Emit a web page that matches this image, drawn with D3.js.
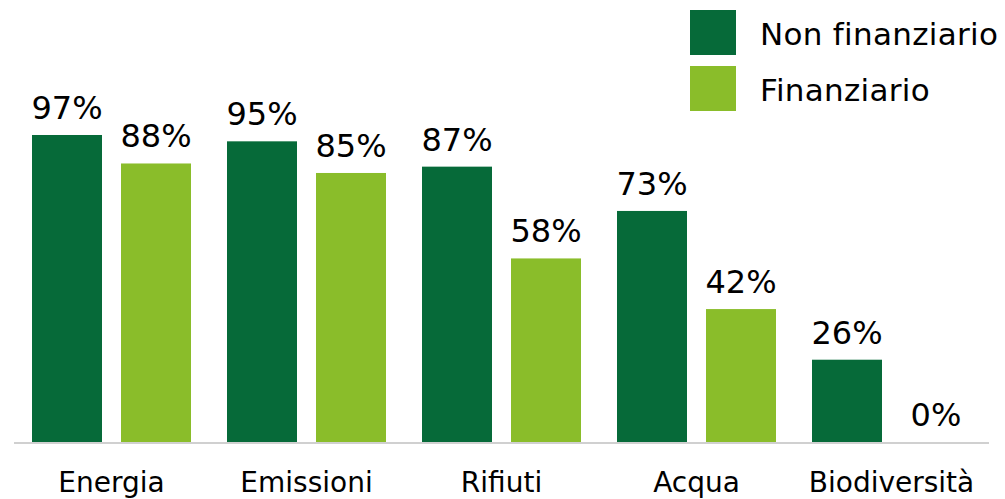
<!DOCTYPE html>
<meta charset="utf-8">
<style>
body { margin: 0; background: #fff; }
text { font-family: "DejaVu Sans", Verdana, sans-serif; fill: #000; }
</style>
<svg width="1005" height="499"></svg>
<script src="https://d3js.org/d3.v7.min.js"></script>
<script>

var categories = ["Energia", "Emissioni", "Rifiuti", "Acqua", "Biodiversità"];
var series = ["Non finanziario", "Finanziario"];
var nonFinanziario = [97, 95, 87, 73, 26];
var finanziario = [88, 85, 58, 42, 0];
var colors = ["#066a39", "#8abd2a"];

var svg = d3.select("svg");

var x0 = d3.scaleBand().domain(categories).range([14, 989]);
var x1 = d3.scaleBand().domain(series).range([18, 177]).paddingInner(0.2135);
var y = d3.scaleLinear().domain([0, 100]).range([442, 125.5]);

var rows = categories.map(function(c, i) {
  return {cat: c, values: [
    {key: series[0], v: nonFinanziario[i]},
    {key: series[1], v: finanziario[i]}
  ]};
});

var group = svg.selectAll(".grp")
  .data(rows)
  .enter().append("g")
    .attr("class", "grp")
    .attr("transform", function(d) { return "translate(" + x0(d.cat) + ",0)"; });

group.selectAll("rect")
  .data(function(d) { return d.values; })
  .enter().append("rect")
    .attr("x", function(d) { return x1(d.key); })
    .attr("y", function(d) { return y(d.v); })
    .attr("width", x1.bandwidth())
    .attr("height", function(d) { return y(0) - y(d.v); })
    .attr("fill", function(d, i) { return colors[i]; });

group.selectAll("text.val")
  .data(function(d) { return d.values; })
  .enter().append("text")
    .attr("class", "val")
    .attr("x", function(d) { return x1(d.key) + x1.bandwidth() / 2; })
    .attr("y", function(d) { return y(d.v) - 16; })
    .attr("text-anchor", "middle")
    .style("font-size", "32px")
    .text(function(d) { return d.v + "%"; });

// baseline
svg.append("line")
  .attr("x1", 14).attr("x2", 989)
  .attr("y1", y(0) + 1).attr("y2", y(0) + 1)
  .attr("stroke", "#d0d0d0")
  .attr("stroke-width", 2);

// category labels
var xAxis = svg.append("g")
  .attr("transform", "translate(0," + (y(0) + 1) + ")")
  .call(d3.axisBottom(x0).tickSize(0));
xAxis.select(".domain").remove();
xAxis.selectAll("text")
  .attr("y", 49)
  .attr("dy", null)
  .attr("fill", "#000")
  .style("font-size", "28px")
  .style("font-family", "'DejaVu Sans', Verdana, sans-serif");

// legend
var legend = svg.selectAll(".legend")
  .data(series)
  .enter().append("g")
    .attr("class", "legend")
    .attr("transform", function(d, i) { return "translate(690," + (10 + i * 56) + ")"; });

legend.append("rect")
  .attr("width", 46)
  .attr("height", 45)
  .attr("fill", function(d, i) { return colors[i]; });

legend.append("text")
  .attr("x", 70)
  .attr("y", 35)
  .style("font-size", "31px")
  .style("letter-spacing", "0.3px")
  .text(function(d) { return d; });

</script>
